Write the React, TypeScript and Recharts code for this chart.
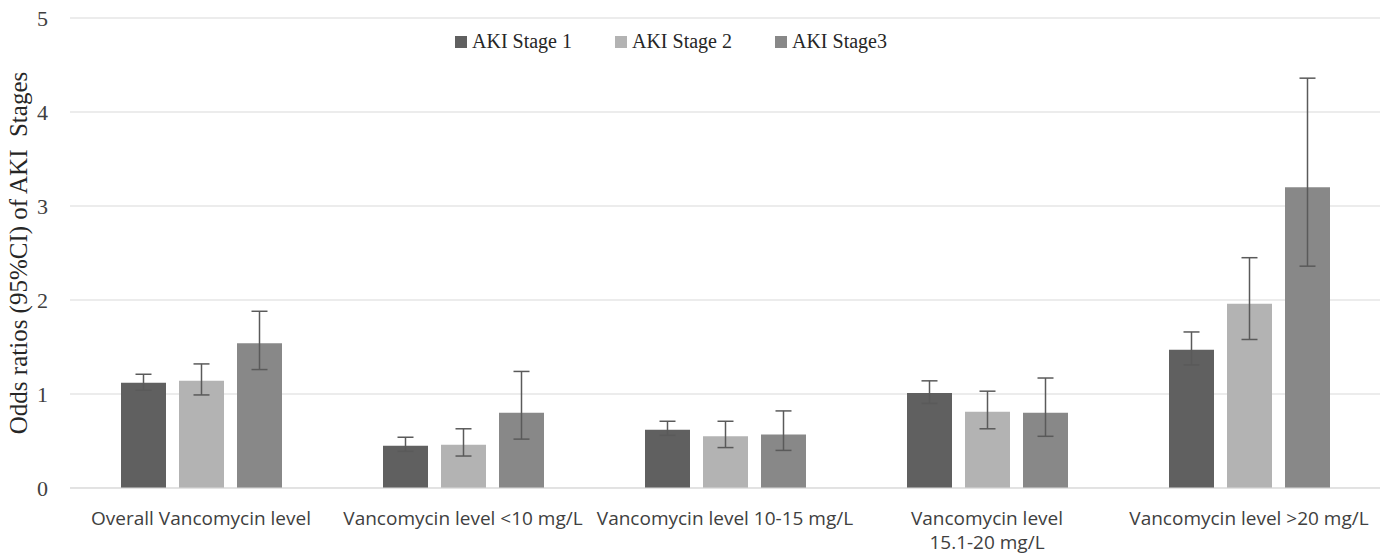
import { BarChart, Bar, XAxis, YAxis, CartesianGrid, Legend, ErrorBar } from 'recharts';

// categories (line break kept where the original wraps the label)
const categories = [
  'Overall Vancomycin level',
  'Vancomycin level <10 mg/L',
  'Vancomycin level 10-15 mg/L',
  'Vancomycin level\n15.1-20 mg/L',
  'Vancomycin level >20 mg/L',
];

// odds ratios and 95% CI bounds per AKI stage
const stage1 = [1.12, 0.45, 0.62, 1.01, 1.47];
const stage1Lo = [1.04, 0.39, 0.56, 0.9, 1.31];
const stage1Hi = [1.21, 0.54, 0.71, 1.14, 1.66];

const stage2 = [1.14, 0.46, 0.55, 0.81, 1.96];
const stage2Lo = [0.99, 0.34, 0.43, 0.63, 1.58];
const stage2Hi = [1.32, 0.63, 0.71, 1.03, 2.45];

const stage3 = [1.54, 0.8, 0.57, 0.8, 3.2];
const stage3Lo = [1.26, 0.52, 0.4, 0.55, 2.36];
const stage3Hi = [1.88, 1.24, 0.82, 1.17, 4.36];

const yTicks = [0, 1, 2, 3, 4, 5];

const series = [
  { key: 's1', name: 'AKI Stage 1', color: '#606060' },
  { key: 's2', name: 'AKI Stage 2', color: '#b3b3b3' },
  { key: 's3', name: 'AKI Stage3', color: '#888888' },
];

const chartData = categories.map((name, i) => ({
  name,
  s1: stage1[i],
  e1: [stage1[i] - stage1Lo[i], stage1Hi[i] - stage1[i]],
  s2: stage2[i],
  e2: [stage2[i] - stage2Lo[i], stage2Hi[i] - stage2[i]],
  s3: stage3[i],
  e3: [stage3[i] - stage3Lo[i], stage3Hi[i] - stage3[i]],
}));

const SERIF = '"Liberation Serif", "Times New Roman", serif';

function CategoryTick(props: any) {
  const { x, y, payload } = props;
  const lines = String(payload.value).split('\n');
  return (
    <text x={x} y={y} textAnchor="middle" fill="#404040" fontFamily="Open Sans" fontSize={19}>
      {lines.map((l, i) => (
        <tspan key={i} x={x} dy={i === 0 ? 35 : 24}>
          {l}
        </tspan>
      ))}
    </text>
  );
}

function LegendContent() {
  return (
    <div style={{ display: 'flex', fontFamily: SERIF, fontSize: 20, color: '#262626' }}>
      {series.map(s => (
        <div key={s.key} style={{ display: 'flex', alignItems: 'center', marginRight: 43 }}>
          <span style={{ width: 12, height: 12, background: s.color, marginRight: 5, display: 'inline-block' }} />
          <span>{s.name}</span>
        </div>
      ))}
    </div>
  );
}

export default function App() {
  return (
    <div style={{ position: 'absolute', left: 0, top: 0, background: '#fff' }}>
      <BarChart
        width={1390}
        height={556}
        data={chartData}
        margin={{ top: 18, right: 10, left: 0, bottom: 0 }}
        barGap={13}
      >
        <CartesianGrid vertical={false} stroke="#d9d9d9" />
        <XAxis
          dataKey="name"
          height={68}
          interval={0}
          tickLine={false}
          tickSize={0}
          axisLine={{ stroke: '#d9d9d9' }}
          tick={<CategoryTick />}
        />
        <YAxis
          width={70}
          domain={[0, 5]}
          ticks={yTicks}
          axisLine={false}
          tickLine={false}
          tickSize={0}
          tickMargin={22}
          tick={{ fontFamily: SERIF, fontSize: 22, fill: '#404040' }}
          label={{
            value: 'Odds ratios (95%CI) of AKI\u00a0\u00a0Stages',
            angle: -90,
            position: 'insideLeft',
            offset: 0,
            dx: 18,
            style: { fontFamily: SERIF, fontSize: 25, fill: '#262626', textAnchor: 'middle' },
          }}
        />
        <Legend
          verticalAlign="middle"
          content={<LegendContent />}
          wrapperStyle={{ top: 30, left: 455, width: 560 }}
        />
        {series.map((s, idx) => (
          <Bar key={s.key} dataKey={s.key} name={s.name} fill={s.color} barSize={45} isAnimationActive={false}>
            <ErrorBar
              dataKey={`e${idx + 1}`}
              direction="y"
              width={8}
              stroke="#5a5a5a"
              strokeWidth={1.5}
              isAnimationActive={false}
            />
          </Bar>
        ))}
      </BarChart>
    </div>
  );
}
